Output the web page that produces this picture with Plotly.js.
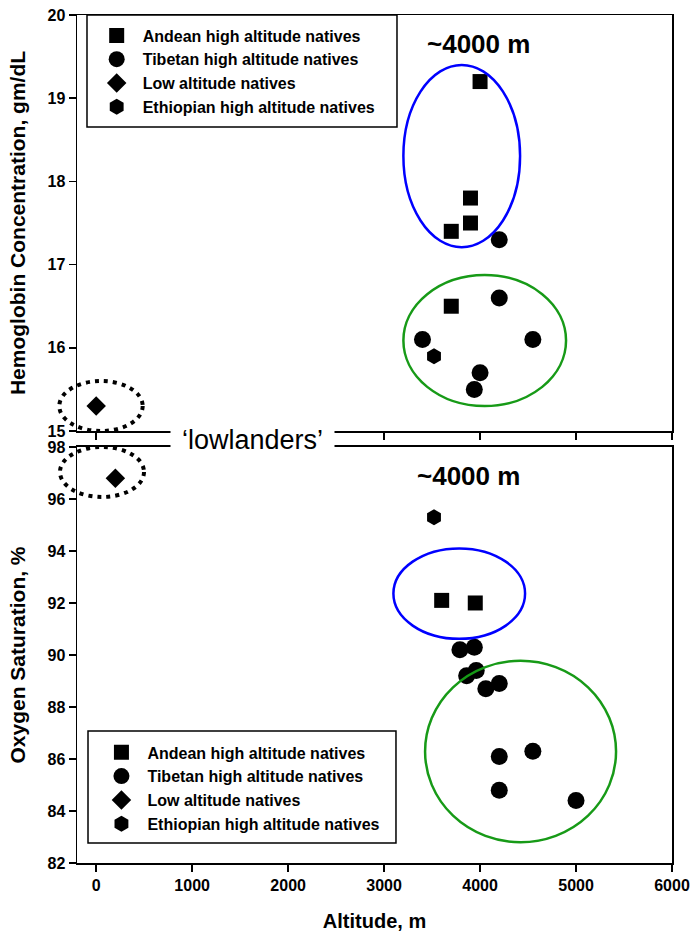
<!DOCTYPE html>
<html>
<head>
<meta charset="utf-8">
<script src="https://cdn.plot.ly/plotly-3.0.1.min.js"></script>
<style>html,body{margin:0;padding:0;background:#fff;}#chart{width:692px;height:932px;}</style>
</head>
<body>
<div id="chart"></div>
<script>
// ---- data ----
const seriesNames = ["Andean high altitude natives", "Tibetan high altitude natives", "Low altitude natives", "Ethiopian high altitude natives"];

// Hemoglobin concentration (gm/dL) vs altitude (m)
const hbAndeanX = [4000, 3900, 3900, 3700, 3700];
const hbAndeanY = [19.2, 17.8, 17.5, 17.4, 16.5];
const hbTibetanX = [4200, 4200, 3400, 4550, 4000, 3940];
const hbTibetanY = [17.3, 16.6, 16.1, 16.1, 15.7, 15.5];
const hbLowX = [0];
const hbLowY = [15.3];
const hbEthiopianX = [3520];
const hbEthiopianY = [15.9];

// Oxygen saturation (%) vs altitude (m)
const satAndeanX = [3600, 3950];
const satAndeanY = [92.1, 92.0];
const satTibetanX = [3790, 3940, 3860, 3960, 4060, 4200, 4200, 4550, 4200, 5000];
const satTibetanY = [90.2, 90.3, 89.2, 89.4, 88.7, 88.9, 86.1, 86.3, 84.8, 84.4];
const satLowX = [200];
const satLowY = [96.8];
const satEthiopianX = [3520];
const satEthiopianY = [95.3];

const altitudeTicks = [0, 1000, 2000, 3000, 4000, 5000, 6000];
const hbTicks = [15, 16, 17, 18, 19, 20];
const satTicks = [82, 84, 86, 88, 90, 92, 94, 96, 98];

// ---- styles ----
const FONT = "Liberation Sans, Arial, Helvetica, sans-serif";
const symbols = ["square", "circle", "diamond", "hexagon"];
const sizes = [15, 17, 15, 16];

function mk(x, y, i, xa, ya, leg) {
  return {
    type: "scatter", mode: "markers", x: x, y: y, name: seriesNames[i],
    xaxis: xa, yaxis: ya, legend: leg, cliponaxis: false,
    marker: {symbol: symbols[i], size: sizes[i], color: "#000", line: {width: 0}},
    hoverinfo: "x+y"
  };
}

const data = [
  mk(hbAndeanX, hbAndeanY, 0, "x", "y", "legend"),
  mk(hbTibetanX, hbTibetanY, 1, "x", "y", "legend"),
  mk(hbLowX, hbLowY, 2, "x", "y", "legend"),
  mk(hbEthiopianX, hbEthiopianY, 3, "x", "y", "legend"),
  mk(satAndeanX, satAndeanY, 0, "x2", "y2", "legend2"),
  mk(satTibetanX, satTibetanY, 1, "x2", "y2", "legend2"),
  mk(satLowX, satLowY, 2, "x2", "y2", "legend2"),
  mk(satEthiopianX, satEthiopianY, 3, "x2", "y2", "legend2")
];

const tickFont = {family: FONT, size: 16, color: "#000", weight: 700};
const titleFont = {family: FONT, size: 21, color: "#000", weight: 700};

function xAxis(anchor, showLabels) {
  return {
    anchor: anchor, domain: [0, 1], range: [-200, 6000], tickvals: altitudeTicks,
    showticklabels: showLabels, ticks: "outside", ticklen: 7, tickwidth: 1.5, tickcolor: "#000",
    showline: true, linewidth: 1.5, linecolor: "#000", mirror: true,
    showgrid: false, zeroline: false, tickfont: tickFont
  };
}
function yAxis(anchor, domain, range, tv, title) {
  return {
    anchor: anchor, domain: domain, range: range, tickvals: tv,
    ticks: "outside", ticklen: 7, tickwidth: 1.5, tickcolor: "#000",
    showline: true, linewidth: 1.5, linecolor: "#000", mirror: true,
    showgrid: false, zeroline: false, tickfont: tickFont,
    title: {text: title, font: titleFont, standoff: 16}
  };
}

const topDom = [0.5094, 1];
const botDom = [0, 0.4906];

const xa2 = xAxis("y2", true);
xa2.title = {text: "Altitude, m", font: {family: FONT, size: 20, color: "#000", weight: 700}, standoff: 22};

const legendStyle = {
  font: {family: FONT, size: 16, color: "#000", weight: 700},
  bgcolor: "rgba(0,0,0,0)", borderwidth: 0, itemwidth: 42,
  xanchor: "left", yanchor: "top", tracegroupgap: 0
};

const layout = {
  width: 692, height: 932,
  margin: {l: 77, r: 20, t: 15, b: 69},
  paper_bgcolor: "#fff", plot_bgcolor: "#fff",
  font: {family: FONT, color: "#000"},
  showlegend: true,
  legend: Object.assign({x: 0.023, y: 0.9959}, legendStyle),
  legend2: Object.assign({x: 0.031, y: 0.1505}, legendStyle),
  xaxis: xAxis("y", false),
  yaxis: yAxis("x", topDom, [15, 20], hbTicks, "Hemoglobin Concentration, gm/dL"),
  xaxis2: xa2,
  yaxis2: yAxis("x2", botDom, [82, 98], satTicks, "Oxygen Saturation, %"),
  shapes: [
    // legend boxes
    {type: "rect", xref: "paper", yref: "paper", x0: 0.0168, x1: 0.5378, y0: 0.8679, y1: 1.0, line: {color: "#000", width: 1.5}},
    {type: "rect", xref: "paper", yref: "paper", x0: 0.0185, x1: 0.5361, y0: 0.0236, y1: 0.1557, line: {color: "#000", width: 1.5}},
    // top panel ellipses
    {type: "circle", xref: "x", yref: "y", x0: 3201, x1: 4417, y0: 17.21, y1: 19.40, line: {color: "#0000ff", width: 2.5}},
    {type: "circle", xref: "x", yref: "y", x0: 3201, x1: 4896, y0: 15.30, y1: 16.875, line: {color: "#179a17", width: 2.5}},
    {type: "circle", xref: "paper", yref: "paper", x0: -0.0297, x1: 0.1104, y0: 0.5094, y1: 0.5684, line: {color: "#000", width: 4, dash: "4px,5px"}},
    // bottom panel ellipses
    {type: "circle", xref: "x2", yref: "y2", x0: 3097, x1: 4469, y0: 90.62, y1: 94.10, line: {color: "#0000ff", width: 2.5}},
    {type: "circle", xref: "x2", yref: "y2", x0: 3427, x1: 5417, y0: 82.80, y1: 89.78, line: {color: "#179a17", width: 2.5}},
    {type: "circle", xref: "paper", yref: "paper", x0: -0.0286, x1: 0.1126, y0: 0.4316, y1: 0.4906, line: {color: "#000", width: 4, dash: "4px,5px"}}
  ],
  annotations: [
    {xref: "x", yref: "y", x: 3979, y: 19.65, text: "~4000 m", showarrow: false,
     font: {family: FONT, size: 26, color: "#000", weight: 700}},
    {xref: "x2", yref: "y2", x: 3875, y: 96.88, text: "~4000 m", showarrow: false,
     font: {family: FONT, size: 26, color: "#000", weight: 700}},
    {xref: "paper", yref: "paper", x: 0.295, y: 0.4988, text: "\u2018lowlanders\u2019", showarrow: false,
     width: 163, height: 38, bgcolor: "#fff", borderpad: 0, xanchor: "center", yanchor: "middle",
     font: {family: FONT, size: 27, color: "#000"}}
  ]
};

Plotly.newPlot("chart", data, layout, {staticPlot: true, displayModeBar: false});
</script>
</body>
</html>
